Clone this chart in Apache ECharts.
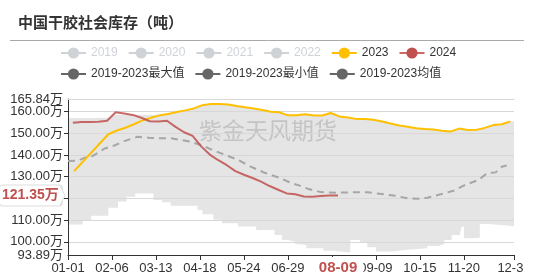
<!DOCTYPE html>
<html><head><meta charset="utf-8">
<script src="https://cdn.jsdelivr.net/npm/echarts@6/dist/echarts.min.js"></script>
<style>html,body{margin:0;padding:0;background:#fff}#w{width:524px;height:280px;overflow:hidden}#c{width:535px;height:280px}</style>
</head><body><div id="w"><div id="c"></div></div>
<script>
// x categories: every day of the year, MM-DD
const monthDays = [31,29,31,30,31,30,31,31,30,31,30,31];
const categories = [];
monthDays.forEach((n, m) => { for (let d = 1; d <= n; d++) categories.push(String(m + 1).padStart(2, '0') + '-' + String(d).padStart(2, '0')); });

const dates2023 = ['01-06','02-03','02-10','02-17','02-24','03-02','03-09','03-16','03-23','03-30','04-06','04-13','04-20','04-27','05-04','05-11','05-18','05-25','06-01','06-08','06-15','06-22','06-29','07-06','07-13','07-20','07-27','08-03','08-10','08-17','08-24','08-31','09-07','09-14','09-21','09-28','10-05','10-12','10-19','10-26','11-02','11-09','11-16','11-23','11-30','12-07','12-14','12-21','12-28'];
const values2023 = [132.6,149.6,151.3,152.6,154.2,156.0,157.2,158.3,158.9,159.8,160.6,161.5,163.0,163.5,163.5,163.3,162.6,162.0,161.5,160.8,160.0,159.7,158.3,158.4,158.8,158.2,158.2,159.4,157.8,157.3,156.6,156.6,156.3,155.5,154.5,153.6,153.0,152.3,152.0,151.8,151.2,150.8,152.2,151.5,151.6,152.5,153.8,154.2,155.5];

const dates2024 = ['01-05','01-12','01-19','01-26','02-02','02-09','02-16','02-23','03-01','03-08','03-15','03-22','03-29','04-05','04-12','04-19','04-26','05-03','05-10','05-17','05-24','05-31','06-07','06-14','06-21','06-28','07-05','07-12','07-19','07-26','08-02','08-09'];
const values2024 = [154.9,155.2,155.2,155.3,155.8,159.7,159.1,158.5,157.2,155.6,155.5,155.8,153.0,150.5,148.8,144.0,140.2,137.6,135.3,132.6,130.9,129.4,127.7,125.7,124.0,122.3,121.9,120.9,120.8,121.1,121.3,121.35];

const maxDates = ['01-01','02-04','02-08','03-16','03-23','03-30','04-06','04-13','04-20','04-27','05-04','05-11','05-18','05-25','06-01','06-08','06-15','06-22','06-29','07-06','07-13','07-20','07-27','08-03','08-10','08-17','08-24','08-31','09-07','09-14','09-21','09-28','10-05','10-12','10-19','10-26','11-02','11-09','11-16','11-23','11-30','12-07','12-14','12-21','12-28','12-31'];
const maxValues = [157.0,157.2,158.6,158.6,158.9,159.8,160.6,161.5,163.0,163.5,163.5,163.3,162.6,162.0,161.5,160.8,160.0,159.7,158.3,158.4,158.8,158.2,158.2,159.4,157.8,157.3,156.6,156.6,156.3,155.5,154.5,153.6,153.0,152.3,152.0,151.8,151.2,150.8,152.2,151.5,151.6,152.5,153.8,154.2,155.5,155.6];

const minDates = ['01-01','01-13','01-20','02-03','02-11','02-18','02-25','03-11','03-18','03-25','04-16','04-20','04-29','05-06','05-19','06-03','06-18','06-24','06-29','07-05','07-09','07-14','07-28','08-05','08-19','08-27','09-02','09-09','09-23','10-05','10-21','10-30','11-04','11-10','11-17','11-18','11-20','11-26','12-03','12-10','12-20','12-31'];
const minValues = [108.0,110.0,112.0,115.7,118.6,120.8,122.2,119.3,118.2,116.6,114.7,112.7,110.1,108.5,107.0,105.4,103.1,100.8,100.0,98.8,98.5,97.0,95.8,95.0,100.8,99.5,97.5,95.5,96.3,97.0,98.0,98.8,100.8,103.1,104.2,107.0,101.6,101.9,108.2,107.7,107.2,107.0];

const avgDates = ['01-01','01-09','01-15','01-21','01-26','01-31','02-08','02-16','02-27','03-07','03-14','03-25','04-03','04-10','04-19','04-28','05-08','05-19','05-29','06-10','06-23','07-02','07-08','07-16','07-26','08-07','08-19','09-02','09-14','09-25','10-05','10-13','10-21','11-01','11-12','11-21','12-02','12-09','12-16','12-21','12-25'];
const avgValues = [137.3,137.4,138.8,139.5,141.2,143.0,144.4,146.4,148.4,148.0,147.7,147.8,146.9,146.2,144.6,142.4,140.2,137.8,134.8,131.8,129.3,127.0,126.0,124.3,122.9,122.6,122.8,122.8,122.0,121.2,120.0,119.8,120.3,121.9,123.6,126.2,128.5,131.6,132.0,134.6,135.2];

const yMin = 93.89, yMax = 165.84;
const pointerDate = '08-09', pointerValue = 121.35;

const pairs = (d, v) => d.map((x, i) => [x, v[i]]);
const showIdx = (i) => (i % 36 === 0 && i !== 360) || i === categories.length - 1;
const fmt = v => Number(v).toFixed(2) + '万';

const chart = echarts.init(document.getElementById('c'));
const FONT = '"Liberation Sans", Arial, "Noto Sans CJK SC", sans-serif';
chart.setOption({
  animation: false,
  textStyle: { fontFamily: FONT },
  title: { text: '中国干胶社会库存（吨）', left: 13, top: 10, textStyle: { fontSize: 15, fontWeight: 'bold', color: '#333', fontFamily: '"Noto Sans CJK SC", sans-serif' } },
  graphic: [
    { type: 'line', shape: { x1: 10, y1: 40.5, x2: 525, y2: 40.5 }, style: { stroke: '#aaa', lineWidth: 1 }, silent: true },
    { type: 'text', left: 199, top: 119, z: 1, silent: true, style: { text: '紫金天风期货', fontSize: 23, fill: 'rgba(150,150,150,0.42)', fontFamily: '"Noto Sans CJK SC", sans-serif' } }
  ],
  legend: [
    { left: 55, top: 42, itemGap: 10, itemWidth: 25, itemHeight: 14, textStyle: { fontSize: 12, color: '#333' },
      data: ['2019','2020','2021','2022','2023','2024'],
      selected: { '2019': false, '2020': false, '2021': false, '2022': false } },
    { left: 55, top: 63, itemGap: 10, itemWidth: 25, itemHeight: 14, textStyle: { fontSize: 12, color: '#333' },
      itemStyle: { color: '#666' }, lineStyle: { color: '#666', width: 2, type: 'solid', opacity: 1 },
      data: ['2019-2023最大值','2019-2023最小值','2019-2023均值'] }
  ],
  grid: { left: 68, right: 21, top: 99, bottom: 25, containLabel: false },
  xAxis: [{
    type: 'category', data: categories, boundaryGap: false, z: 1,
    axisLine: { lineStyle: { color: '#333' } },
    axisTick: { interval: showIdx, length: 5, lineStyle: { color: '#333' } },
    axisLabel: { interval: showIdx, color: '#333', fontSize: 13, margin: 7 },
    splitLine: { show: false },
    axisPointer: { show: true, type: 'line', value: categories.indexOf(pointerDate), status: 'show', snap: false, triggerTooltip: false,
      lineStyle: { opacity: 0 },
      label: { show: true, backgroundColor: '#fff', color: '#C0504D', fontWeight: 'bold', fontSize: 15, padding: [3, 6, 3, 6], margin: 2, fontFamily: FONT } }
  }, {
    type: 'category', data: categories, boundaryGap: false, position: 'top', z: 1, silent: true,
    axisLine: { show: true, lineStyle: { color: '#d8d8d8' } },
    axisTick: { show: false }, axisLabel: { show: false }, splitLine: { show: false }, axisPointer: { show: false }
  }],
  yAxis: [{
    type: 'value', min: yMin, max: yMax, z: 1,
    axisLine: { show: true, lineStyle: { color: '#333' } },
    axisTick: { show: true, length: 4, lineStyle: { color: '#333' } },
    axisLabel: { color: '#333', fontSize: 13, margin: 5, showMinLabel: false, showMaxLabel: false, formatter: fmt },
    splitLine: { lineStyle: { color: '#d8d8d8' } },
    axisPointer: { show: true, type: 'line', value: pointerValue, status: 'show', snap: false, triggerTooltip: false,
      lineStyle: { opacity: 0 },
      label: { show: true, backgroundColor: '#fff', borderColor: '#ddd', borderWidth: 1, color: '#C0504D', fontWeight: 'bold', fontSize: 14,
        padding: [3, 3, 3, 2], margin: 8, fontFamily: FONT, formatter: p => fmt(p.value) } }
  }, {
    type: 'value', min: yMin, max: yMax, position: 'left', offset: 0, z: 1, silent: true,
    axisLine: { show: false }, axisTick: { show: false }, splitLine: { show: false }, axisPointer: { show: false },
    axisLabel: { color: '#333', fontSize: 13, margin: 5, customValues: [yMin, yMax], formatter: fmt }
  }],
  series: [
    { name: '2019', type: 'line', data: [], symbol: 'circle', color: '#5b9bd5' },
    { name: '2020', type: 'line', data: [], symbol: 'circle', color: '#ed7d31' },
    { name: '2021', type: 'line', data: [], symbol: 'circle', color: '#a5a5a5' },
    { name: '2022', type: 'line', data: [], symbol: 'circle', color: '#70ad47' },
    { name: '2019-2023最大值', type: 'line', z: 0, silent: true, symbol: 'circle', showSymbol: false, color: '#666',
      data: pairs(maxDates, maxValues), lineStyle: { width: 0 }, areaStyle: { color: '#e5e5e5', opacity: 1 } },
    { name: '2019-2023最小值', type: 'line', z: 0, silent: true, step: 'end', symbol: 'circle', showSymbol: false, color: '#666',
      data: pairs(minDates, minValues), lineStyle: { width: 0 }, areaStyle: { color: '#ffffff', opacity: 1 } },
    { name: '2019-2023均值', type: 'line', z: 2, silent: true, symbol: 'circle', showSymbol: false, color: '#666',
      data: pairs(avgDates, avgValues), lineStyle: { color: '#a6a6a6', width: 2, type: [7, 5] } },
    { name: '2023', type: 'line', z: 3, symbol: 'circle', showSymbol: false, color: '#FFC000',
      data: pairs(dates2023, values2023), lineStyle: { width: 2 } },
    { name: '2024', type: 'line', z: 4, symbol: 'circle', showSymbol: false, color: '#C0504D',
      data: pairs(dates2024, values2024), lineStyle: { width: 2, opacity: 0.85 } }
  ]
});
// small arrow tip on the value label, placed through the axis scale
const py = chart.convertToPixel({ yAxisIndex: 0 }, pointerValue);
const px = chart.convertToPixel({ gridIndex: 0 }, [0, pointerValue])[0];
chart.setOption({ graphic: [{}, {}, {
  type: 'polyline', z: 100, silent: true,
  shape: { points: [[px - 8, py - 10], [px - 3, py], [px - 8, py + 10]] },
  style: { stroke: '#ddd', fill: '#fff', lineWidth: 1 }
}] });
</script></body></html>
